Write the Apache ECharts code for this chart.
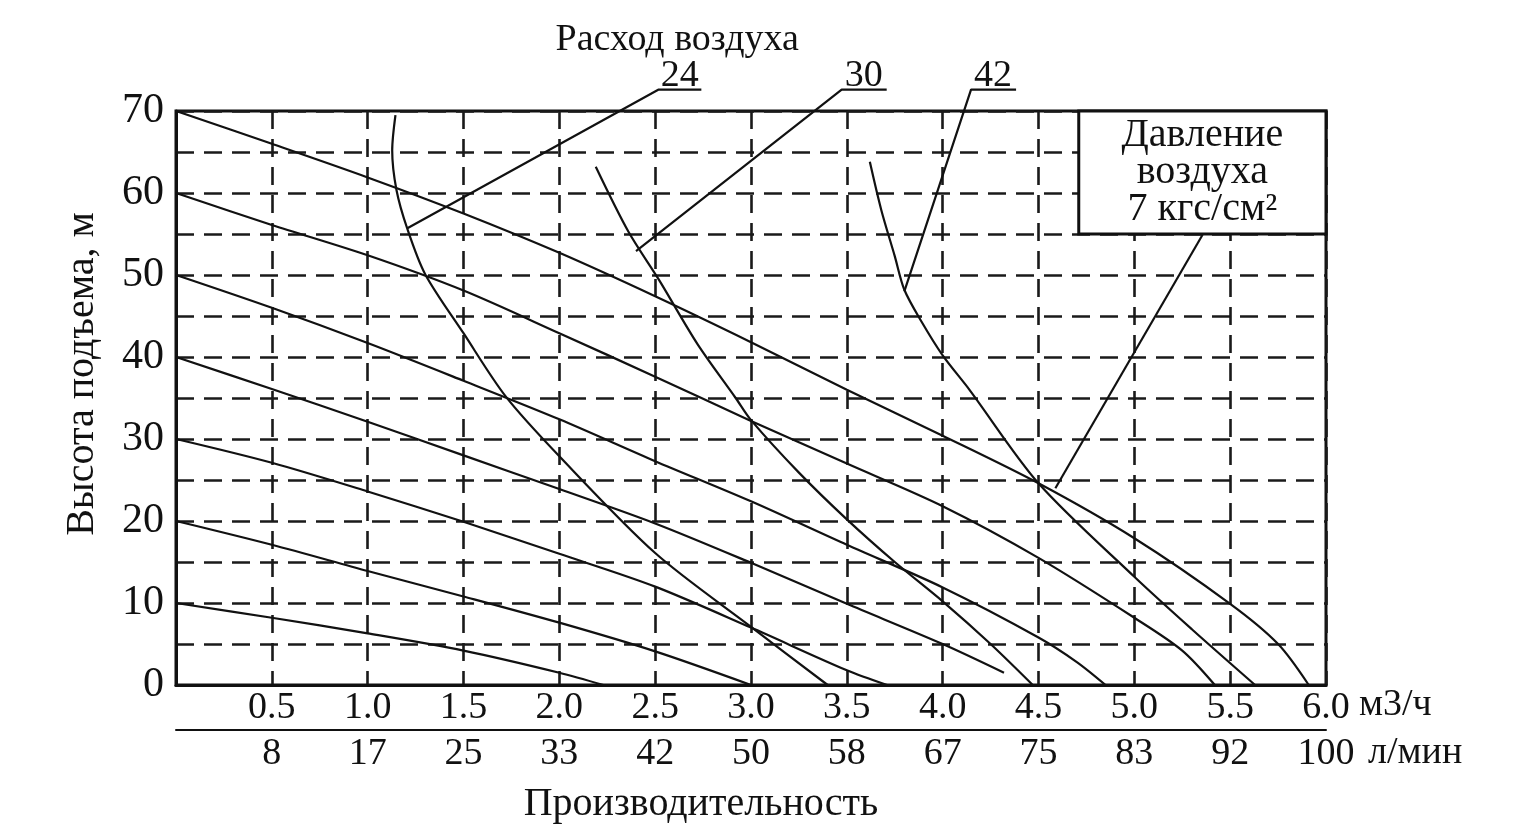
<!DOCTYPE html>
<html>
<head>
<meta charset="utf-8">
<title>Производительность</title>
<script src="https://cdn.jsdelivr.net/npm/echarts@6/dist/echarts.min.js"></script>
<style>
  html, body { margin: 0; padding: 0; background: #fff; }
  #chart { width: 1523px; height: 829px; }
</style>
</head>
<body>
<div id="chart"></div>
<script>
// шкалы
const headTicks = [0, 10, 20, 30, 40, 50, 60, 70];
const lpmLabels = ['8', '17', '25', '33', '42', '50', '58', '67', '75', '83', '92', '100'];

// линии давления: [м3/ч, м]
const p70 = [[0, 70], [0.5, 66.0], [1.0, 61.9], [1.5, 57.5], [2.0, 52.7], [2.5, 47.4], [3.0, 41.8], [3.5, 36.0], [4.0, 30.4], [4.5, 24.6], [5.0, 17.9], [5.5, 9.9], [5.75, 5.0], [5.91, 0]];
const p60 = [[0, 60], [0.5, 56.1], [1.0, 52.4], [1.5, 48.1], [2.0, 42.9], [2.5, 37.6], [3.0, 32.2], [3.5, 27.0], [4.0, 21.8], [4.5, 15.5], [5.0, 8.2], [5.25, 4.2], [5.42, 0]];
const p50 = [[0, 50], [0.5, 46.0], [1.0, 41.7], [1.5, 37.1], [2.0, 32.4], [2.5, 27.3], [3.0, 22.4], [3.5, 17.1], [4.0, 11.9], [4.5, 5.8], [4.7, 2.8], [4.85, 0]];
const p40 = [[0, 40], [0.5, 36.1], [1.0, 32.1], [1.5, 28.0], [2.0, 23.9], [2.5, 19.7], [3.0, 14.9], [3.5, 9.9], [4.0, 5.0], [4.32, 1.5]];
const p30 = [[0, 30], [0.5, 27.1], [1.0, 23.6], [1.5, 19.9], [2.0, 16.0], [2.5, 12.0], [3.0, 7.0], [3.5, 1.8], [3.71, 0]];
const p20 = [[0, 20], [0.5, 17.1], [1.0, 13.9], [1.5, 10.8], [2.0, 7.6], [2.5, 4.1], [3.0, 0]];
const p10 = [[0, 10], [0.5, 8.2], [1.0, 6.3], [1.5, 4.2], [2.0, 1.5], [2.23, 0]];

// линии расхода воздуха
const air24 = [[1.145, 69.5], [1.128, 65.2], [1.15, 60.4], [1.206, 55.7], [1.30, 50.1], [1.50, 42.9], [1.72, 35.2], [2.0, 27.9], [2.5, 16.1], [3.0, 7.1], [3.4, 0]];
const air30 = [[2.19, 63.2], [2.36, 55.3], [2.52, 49.4], [2.72, 41.6], [2.92, 35.0], [3.0, 32.3], [3.25, 25.9], [3.5, 20.2], [3.75, 15.0], [4.0, 10.2], [4.25, 5.0], [4.47, 0]];
const air42 = [[3.62, 63.8], [3.68, 57.9], [3.75, 52.3], [3.8, 48.2], [3.89, 44.3], [4.0, 40.2], [4.14, 36.0], [4.5, 24.6], [5.0, 13.2], [5.3, 6.8], [5.63, 0]];

// выноски
const lead24 = [[1.207, 55.7], [2.516, 72.6], [2.741, 72.6]];
const lead30 = [[2.40, 52.9], [3.473, 72.6], [3.708, 72.6]];
const lead42 = [[3.80, 48.0], [4.148, 72.6], [4.383, 72.6]];
const leadBox = [[5.356, 54.9], [4.588, 24.0]];
const notes = [
  { name: '24', value: [2.628, 74.3] },
  { name: '30', value: [3.588, 74.3] },
  { name: '42', value: [4.263, 74.3] },
  { name: 'Расход воздуха', value: [2.615, 78.6] }
];

const FONT = 'Liberation Serif';
const INK = '#111';

const dash = { color: '#1a1a1a', width: 2.6, type: [18, 10] };

function curve(data) {
  return {
    type: 'line', data: data, smooth: 0.3, symbol: 'none',
    lineStyle: { color: INK, width: 2.2 }, z: 3
  };
}
function leader(data) {
  return {
    type: 'line', data: data, symbol: 'none', clip: false,
    lineStyle: { color: INK, width: 2.2 }, z: 4
  };
}

const series = [p70, p60, p50, p40, p30, p20, p10, air24, air30, air42].map(curve);
series[0].markArea = {
  silent: true,
  itemStyle: { color: '#fff', borderColor: INK, borderWidth: 3, opacity: 1 },
  label: {
    show: true, position: 'inside', color: INK,
    fontFamily: FONT, fontSize: 40, lineHeight: 37,
    formatter: 'Давление\nвоздуха\n7 кгс/см²'
  },
  data: [[{ coord: [4.71, 70] }, { coord: [6, 55] }]]
};
[lead24, lead30, lead42, leadBox].forEach(d => series.push(leader(d)));
series.push({
  type: 'scatter', data: notes, clip: false, symbolSize: 1,
  itemStyle: { color: 'rgba(255,255,255,0)', opacity: 1 }, silent: true,
  label: {
    show: true, position: 'inside', formatter: '{b}', color: INK, opacity: 1,
    fontFamily: FONT, fontSize: 38
  }
});

const chart = echarts.init(document.getElementById('chart'));
chart.setOption({
  animation: false,
  backgroundColor: '#fff',
  textStyle: { fontFamily: FONT, color: INK },
  grid: {
    left: 176, right: 197, top: 111, bottom: 141, containLabel: false,
    show: true, borderColor: INK, borderWidth: 3
  },
  xAxis: [
    {
      type: 'value', min: 0, max: 6, interval: 0.5,
      name: 'м3/ч', nameLocation: 'end', nameGap: 33,
      nameTextStyle: { fontFamily: FONT, fontSize: 38, color: INK, verticalAlign: 'top', lineHeight: 40 },
      axisLine: { lineStyle: { color: INK, width: 3 } },
      axisTick: { show: false },
      axisLabel: {
        margin: 4, fontFamily: FONT, fontSize: 38, color: INK,
        formatter: v => (v === 0 ? '' : v.toFixed(1))
      },
      splitLine: { show: true, lineStyle: dash }
    },
    {
      type: 'value', min: 0, max: 6, interval: 0.5, position: 'bottom', offset: 45,
      name: 'л/мин', nameLocation: 'end', nameGap: 42,
      nameTextStyle: { fontFamily: FONT, fontSize: 38, color: INK, verticalAlign: 'top', lineHeight: 46 },
      axisLine: { lineStyle: { color: INK, width: 2 } },
      axisTick: { show: false },
      axisLabel: {
        margin: 5, fontFamily: FONT, fontSize: 38, color: INK,
        formatter: v => lpmLabels[Math.round(v / 0.5) - 1] || ''
      },
      splitLine: { show: false }
    },
    {
      type: 'value', min: 0, max: 6, position: 'bottom', offset: 45,
      name: 'Производительность', nameLocation: 'middle', nameGap: 54,
      nameTextStyle: { fontFamily: FONT, fontSize: 40, color: INK, padding: [0, 100, 0, 0] },
      axisLine: { show: false }, axisTick: { show: false },
      axisLabel: { show: false }, splitLine: { show: false }
    }
  ],
  yAxis: {
    type: 'value', min: 0, max: 70, interval: 5,
    name: 'Высота подъема, м', nameLocation: 'middle', nameGap: 74,
    nameTextStyle: { fontFamily: FONT, fontSize: 40, color: INK, padding: [0, 0, 0, 48] },
    axisLine: { show: true, lineStyle: { color: INK, width: 3 } },
    axisTick: { show: false },
    axisLabel: {
      margin: 12, fontFamily: FONT, fontSize: 42, color: INK,
      formatter: v => (headTicks.includes(v) ? String(v) : '')
    },
    splitLine: { show: true, lineStyle: dash }
  },
  series: series
});
</script>
</body>
</html>
